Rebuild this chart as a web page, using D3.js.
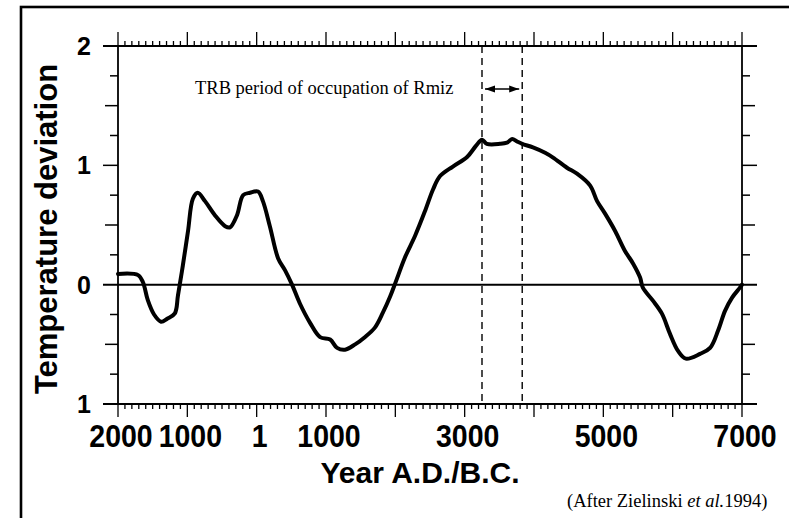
<!DOCTYPE html>
<html>
<head>
<meta charset="utf-8">
<script src="https://cdn.jsdelivr.net/npm/d3@7"></script>
<style>
  html, body { margin: 0; padding: 0; background: #fff; }
  svg { display: block; }
</style>
</head>
<body>
<svg id="chart" width="789" height="518"></svg>
<script>
// ---- data (year: positive = A.D., negative = B.C.) ----
const years = [2000, 1710, 1640, 1570, 1480, 1380, 1290, 1180, 1135, 1065, 990, 920, 850,
  745, 600, 455, 385, 285, 195, 95, -20, -90, -190, -310, -410, -510, -625, -770, -915,
  -1060, -1160, -1275, -1420, -1560, -1705, -1820, -1925, -2010, -2140, -2285, -2430,
  -2545, -2645, -2830, -3035, -3165, -3250, -3320, -3510, -3610, -3685, -3755, -3830,
  -3985, -4160, -4275, -4475, -4620, -4810, -4910, -5025, -5170, -5310, -5430, -5530,
  -5570, -5715, -5845, -5960, -6075, -6190, -6395, -6540, -6655, -6755, -6855, -6970, -7000];
const temps = [0.09, 0.08, 0.02, -0.13, -0.25, -0.31, -0.285, -0.24, -0.09, 0.16, 0.45, 0.72, 0.77,
  0.70, 0.58, 0.49, 0.48, 0.58, 0.75, 0.77, 0.78, 0.70, 0.49, 0.22, 0.12, 0.0, -0.16, -0.32, -0.44,
  -0.46, -0.53, -0.545, -0.50, -0.44, -0.36, -0.235, -0.10, 0.03, 0.23, 0.41, 0.62,
  0.80, 0.91, 0.99, 1.07, 1.165, 1.215, 1.18, 1.18, 1.19, 1.22, 1.20, 1.18,
  1.15, 1.105, 1.065, 0.98, 0.93, 0.83, 0.70, 0.595, 0.45, 0.285, 0.176, 0.06,
  -0.025, -0.134, -0.243, -0.41, -0.553, -0.62, -0.58, -0.53, -0.385, -0.22, -0.11, -0.025, 0.0];

const xTickYears  = [2000, 1000, 0, -1000, -3000, -5000, -7000];
const xTickLabels = ["2000", "1000", "1", "1000", "3000", "5000", "7000"];
const yTickValues = [2, 1, 0, -1];
const yTickLabels = ["2", "1", "0", "1"];
const occupation  = [-3250, -3830];
const annotationText = "TRB period of occupation of Rmiz";
const xTitle = "Year A.D./B.C.";
const yTitle = "Temperature deviation";

// ---- scales ----
const x = d3.scaleLinear().domain([2000, -7000]).range([118, 742]);
const y = d3.scaleLinear().domain([-1, 2]).range([404, 46]);

const svg = d3.select("#chart");
const sans = "'Liberation Sans', Arial, Helvetica, sans-serif";
const serif = "'Liberation Serif', 'Times New Roman', serif";

svg.append("rect").attr("width", 789).attr("height", 518).attr("fill", "#fff");

// outer frame (left & top visible)
svg.append("rect").attr("x", 21).attr("y", 7).attr("width", 820).attr("height", 600)
  .attr("fill", "none").attr("stroke", "#000").attr("stroke-width", 2.6);

const [x0, x1] = x.range();
const yTop = y(2), yBot = y(-1);

// dashed occupation lines
svg.selectAll("line.occ").data(occupation).join("line").attr("class", "occ")
  .attr("x1", d => x(d)).attr("x2", d => x(d))
  .attr("y1", yTop).attr("y2", yBot)
  .attr("stroke", "#000").attr("stroke-width", 1.4).attr("stroke-dasharray", "7,5");

// arrow
const defs = svg.append("defs");
["start", "end"].forEach(k => {
  defs.append("marker").attr("id", "arr-" + k)
    .attr("viewBox", "0 0 10 10").attr("refX", k === "end" ? 10 : 0).attr("refY", 5)
    .attr("markerWidth", 10).attr("markerHeight", 10).attr("markerUnits", "userSpaceOnUse")
    .attr("orient", "auto")
    .append("path")
    .attr("d", k === "end" ? "M0,1.5 L10,5 L0,8.5 Z" : "M10,1.5 L0,5 L10,8.5 Z")
    .attr("fill", "#000");
});
svg.append("line")
  .attr("x1", x(occupation[0]) + 3).attr("x2", x(occupation[1]) - 3)
  .attr("y1", 89).attr("y2", 89)
  .attr("stroke", "#000").attr("stroke-width", 1.5)
  .attr("marker-start", "url(#arr-start)").attr("marker-end", "url(#arr-end)");

svg.append("text").attr("x", 195).attr("y", 94)
  .attr("font-family", serif).attr("font-size", 18.5).attr("fill", "#000")
  .text(annotationText);

// zero line
svg.append("line").attr("x1", x0 - 15).attr("x2", x1 + 15)
  .attr("y1", y(0)).attr("y2", y(0)).attr("stroke", "#000").attr("stroke-width", 2);

// curve
const line = d3.line().x((d, i) => x(years[i])).y(d => y(d)).curve(d3.curveCatmullRom.alpha(0.5));
svg.append("path").datum(temps).attr("d", line)
  .attr("fill", "none").attr("stroke", "#000").attr("stroke-width", 4)
  .attr("stroke-linejoin", "round").attr("stroke-linecap", "round");

// axes frame lines
const ax = svg.append("g").attr("stroke", "#000").attr("fill", "none");
ax.append("line").attr("x1", x0).attr("x2", x0).attr("y1", yTop).attr("y2", yBot).attr("stroke-width", 1.8);
ax.append("line").attr("x1", x1).attr("x2", x1).attr("y1", yTop).attr("y2", yBot).attr("stroke-width", 1.8);
ax.append("line").attr("x1", x0 - 15).attr("x2", x1 + 15).attr("y1", yTop).attr("y2", yTop).attr("stroke-width", 1.8);
ax.append("line").attr("x1", x0 - 15).attr("x2", x1 + 15).attr("y1", yBot).attr("y2", yBot).attr("stroke-width", 1.8);

// x ticks (every 100 years, major every 1000)
const xt = d3.range(2000, -7001, -100);
const isMajorX = d => d % 1000 === 0;
ax.selectAll("line.tt").data(xt).join("line").attr("class", "tt")
  .attr("x1", d => x(d)).attr("x2", d => x(d))
  .attr("y1", yTop).attr("y2", d => yTop - (isMajorX(d) ? 14 : 5)).attr("stroke-width", 1.3);
ax.selectAll("line.bt").data(xt).join("line").attr("class", "bt")
  .attr("x1", d => x(d)).attr("x2", d => x(d))
  .attr("y1", yBot).attr("y2", d => yBot + (isMajorX(d) ? 13 : 5)).attr("stroke-width", 1.3);

// y ticks (every 0.25, longer every 0.5)
const yt = d3.range(-1, 2.001, 0.25).filter(v => Math.abs(v - Math.round(v)) > 1e-6);
const yLen = v => (Math.abs(v * 2 - Math.round(v * 2)) < 1e-6 ? 13 : 8);
ax.selectAll("line.lt").data(yt.concat([1])).join("line").attr("class", "lt")
  .attr("x1", x0).attr("x2", d => x0 - (d === 1 ? 15 : yLen(d)))
  .attr("y1", d => y(d)).attr("y2", d => y(d)).attr("stroke-width", 1.5);
ax.selectAll("line.rt").data(yt.concat([1])).join("line").attr("class", "rt")
  .attr("x1", x1).attr("x2", d => x1 + (d === 1 ? 15 : yLen(d)))
  .attr("y1", d => y(d)).attr("y2", d => y(d)).attr("stroke-width", 1.5);

// y tick labels
svg.selectAll("text.yl").data(yTickValues).join("text").attr("class", "yl")
  .attr("x", 91).attr("y", d => y(d) + 9)
  .attr("text-anchor", "end").attr("font-family", sans).attr("font-weight", "bold")
  .attr("font-size", 25).attr("fill", "#000")
  .text((d, i) => yTickLabels[i]);

// x tick labels
svg.selectAll("text.xl").data(xTickYears).join("text").attr("class", "xl")
  .attr("transform", d => `translate(${x(d) + 3},447) scale(0.92,1)`)
  .attr("text-anchor", "middle").attr("font-family", sans).attr("font-weight", "bold")
  .attr("font-size", 31).attr("fill", "#000")
  .text((d, i) => xTickLabels[i]);

// axis titles
svg.append("text").attr("x", 420).attr("y", 483).attr("text-anchor", "middle")
  .attr("font-family", sans).attr("font-weight", "bold").attr("font-size", 30).attr("fill", "#000")
  .text(xTitle);
svg.append("text").attr("transform", "translate(57,229) rotate(-90)").attr("text-anchor", "middle")
  .attr("font-family", sans).attr("font-weight", "bold").attr("font-size", 31).attr("fill", "#000")
  .text(yTitle);

// credit
const cr = svg.append("text").attr("x", 567).attr("y", 507)
  .attr("font-family", serif).attr("font-size", 18.5).attr("fill", "#000");
cr.append("tspan").text("(After Zielinski ");
cr.append("tspan").attr("font-style", "italic").text("et al.");
cr.append("tspan").text("1994)");
</script>
</body>
</html>
